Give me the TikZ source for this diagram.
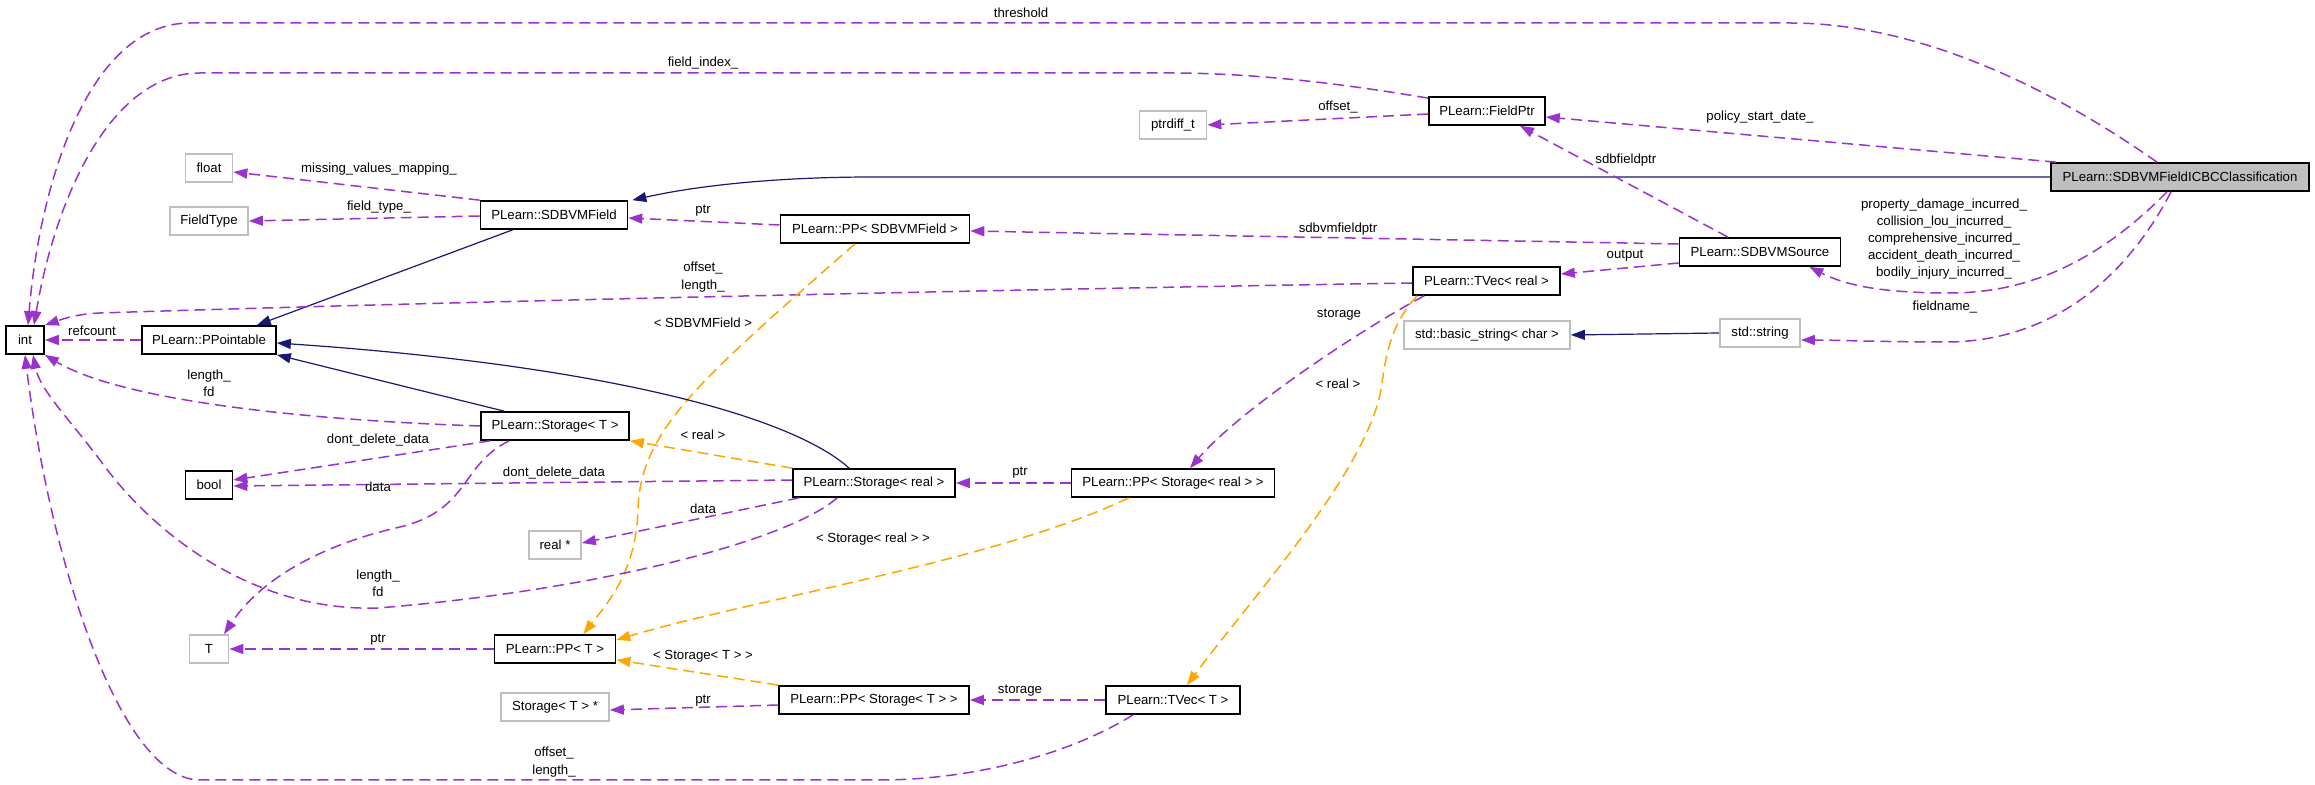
\documentclass[tikz,border=0pt]{standalone}
\usepackage{fontspec}
\setmainfont{Liberation Sans}
\usetikzlibrary{arrows.meta,calc}
\definecolor{usecol}{HTML}{9A32CD}
\definecolor{tmplcol}{HTML}{FFA500}
\definecolor{inhcol}{HTML}{191970}
\definecolor{boxgray}{HTML}{BFBFBF}
\newcommand{\lblfont}{\fontsize{6.6pt}{8.6pt}\selectfont}
\begin{document}
\begin{tikzpicture}[x=0.5pt,y=-0.5pt,
  cls/.style={draw=black,line width=0.85pt,rectangle,minimum height=14pt,inner sep=0pt,font=\lblfont,fill=white},
  ext/.style={cls,draw=boxgray},
  mainbox/.style={cls,fill=boxgray},
  tip/.style={-{Triangle[length=7pt,width=5pt]}},
  use/.style={draw=usecol,dash pattern=on 5.5pt off 3pt,line width=0.75pt,tip},
  tmpl/.style={use,draw=tmplcol},
  inh/.style={draw=inhcol,line width=0.6pt,tip},
  lab/.style={font=\lblfont,inner sep=0pt,align=center}]
\useasboundingbox (0,0) rectangle (2315,785);
\fill[white] (0,0) rectangle (2315,785);

% nodes
\node[cls,minimum width=19pt] (int) at (25,340) {int};
\node[cls,minimum width=67pt] (ppt) at (209,340) {PLearn::PPointable};
\node[ext,minimum width=23.5pt] (float) at (209,168) {float};
\node[ext,minimum width=39pt] (ftype) at (209,221) {FieldType};
\node[cls,minimum width=73.5pt] (sfield) at (554,215) {PLearn::SDBVMField};
\node[cls,minimum width=94.5pt] (ppsf) at (875,229) {PLearn::PP< SDBVMField >};
\node[ext,minimum width=33.5pt] (ptrdiff) at (1173,125) {ptrdiff\_t};
\node[cls,minimum width=58pt] (fptr) at (1487,111) {PLearn::FieldPtr};
\node[mainbox,minimum width=129pt] (icbc) at (2180,177) {PLearn::SDBVMFieldICBCClassification};
\node[cls,minimum width=80.5pt] (src) at (1760,252) {PLearn::SDBVMSource};
\node[cls,minimum width=73.5pt] (tvr) at (1486.5,281) {PLearn::TVec< real >};
\node[ext,minimum width=83pt] (bstr) at (1487,335) {std::basic\_string< char >};
\node[ext,minimum width=40pt] (str) at (1760,333) {std::string};
\node[cls,minimum width=74pt] (stT) at (555,426) {PLearn::Storage< T >};
\node[cls,minimum width=23.5pt] (bool) at (209,485) {bool};
\node[ext,minimum width=26pt] (rstar) at (555,545) {real *};
\node[ext,minimum width=19.5pt] (T) at (209,649) {T};
\node[cls,minimum width=60.5pt] (ppT) at (555,649) {PLearn::PP< T >};
\node[ext,minimum width=54pt] (stTs) at (555,707) {Storage< T > *};
\node[cls,minimum width=81pt] (stR) at (874,483) {PLearn::Storage< real >};
\node[cls,minimum width=101.5pt] (ppstR) at (1173,483) {PLearn::PP< Storage< real > >};
\node[cls,minimum width=95pt] (ppstT) at (874,700) {PLearn::PP< Storage< T > >};
\node[cls,minimum width=67pt] (tvT) at (1173,700) {PLearn::TVec< T >};

% connectors
\draw[use] ($(icbc.north)+(-23,0)$) .. controls (2040,80) and (1910,23) .. (1790,23) -- (190,23) .. controls (90,23) and (40,180) .. ($(int.north)+(3,0)$);
\draw[use] ($(fptr.north west)+(0,2)$) .. controls (1350,85) and (1260,73) .. (1170,73) -- (200,73) .. controls (110,73) and (55,200) .. ($(int.north)+(9,0)$);
\draw[use] ($(fptr.west)+(0,3)$) -- (ptrdiff.east);
\draw[use] ($(icbc.north west)+(6,0)$) -- ($(fptr.east)+(0,6)$);
\draw[inh] (icbc.west) -- (873,177) .. controls (780,177) and (700,185) .. ($(sfield.north east)+(4,0)$);
\draw[use] (sfield.north west) -- ($(float.east)+(0,4)$);
\draw[use] ($(sfield.west)+(0,1)$) -- (ftype.east);
\draw[inh] ($(sfield.south west)+(33,0)$) -- ($(ppt.north east)+(-20,0)$);
\draw[use] ($(ppsf.west)+(0,-4)$) -- ($(sfield.east)+(0,3)$);
\draw[use] ($(src.west)+(0,-8)$) -- ($(ppsf.east)+(0,2)$);
\draw[use] ($(src.north)+(-32,0)$) -- ($(fptr.south)+(33,0)$);
\draw[use] ($(src.west)+(0,11)$) -- ($(tvr.east)+(0,-7)$);
\draw[use] ($(icbc.south)+(-13,0)$) .. controls (2100,260) and (2030,293) .. (1950,293) .. controls (1880,293) and (1845,285) .. ($(src.south east)+(-32,0)$);
\draw[use] ($(icbc.south)+(-9,0)$) .. controls (2120,290) and (2040,342) .. (1946,342) .. controls (1880,342) and (1835,340) .. ($(str.east)+(0,7)$);
\draw[inh] (str.west) -- (bstr.east);
\draw[use] ($(tvr.west)+(0,2)$) .. controls (1100,288) and (500,300) .. (100,313) .. controls (75,314) and (60,320) .. (int.north east);
\draw[tmpl] ($(ppsf.south)+(-20,0)$) .. controls (700,380) and (640,430) .. (638,510) .. controls (636,570) and (610,600) .. ($(ppT.north east)+(-33,0)$);
\draw[use] (ppt.west) -- (int.east);
\draw[inh] ($(stT.north west)+(24,0)$) -- (ppt.south east);
\draw[inh] ($(stR.north west)+(57,0)$) .. controls (790,415) and (600,365) .. ($(ppt.east)+(0,3)$);
\draw[use] (stT.west) .. controls (300,420) and (120,400) .. (int.south east);
\draw[use] ($(stT.south west)+(10,0)$) -- ($(bool.east)+(0,-5)$);
\draw[use] ($(stT.south west)+(29,0)$) .. controls (460,465) and (470,510) .. (400,527) .. controls (320,545) and (260,580) .. ($(T.north)+(15,0)$);
\draw[use] ($(stR.west)+(0,-3)$) -- ($(bool.east)+(0,1)$);
\draw[tmpl] (stR.north west) -- (stT.south east);
\draw[use] ($(stR.south west)+(7,0)$) -- ($(rstar.east)+(0,-2)$);
\draw[use] ($(stR.south west)+(45,0)$) .. controls (790,540) and (600,590) .. (378,608) .. controls (250,612) and (150,530) .. (100,460) .. controls (70,420) and (40,390) .. ($(int.south)+(8,0)$);
\draw[use] (ppstR.west) -- (stR.east);
\draw[use] ($(tvr.south west)+(12,0)$) .. controls (1360,330) and (1240,410) .. ($(ppstR.north)+(17,0)$);
\draw[tmpl] ($(tvr.south west)+(5,0)$) .. controls (1385,330) and (1385,370) .. (1380,395) .. controls (1360,480) and (1250,600) .. ($(tvT.north)+(14,0)$);
\draw[tmpl] ($(ppstR.south west)+(58,0)$) .. controls (1000,560) and (750,600) .. ($(ppT.east)+(0,-9)$);
\draw[use] (ppT.west) -- (T.east);
\draw[tmpl] (ppstT.north west) -- ($(ppT.south east)+(0,-4)$);
\draw[use] ($(ppstT.west)+(0,5)$) -- ($(stTs.east)+(0,3)$);
\draw[use] (tvT.west) -- (ppstT.east);
\draw[use] ($(tvT.south west)+(28,0)$) .. controls (1060,760) and (960,780) .. (880,780) -- (200,780) .. controls (120,780) and (50,560) .. (int.south);

% labels
\node[lab] (lthr) at (1021,13) {threshold};
\node[lab] (lfi) at (703,63) {field\_index\_};
\node[lab] (loff) at (1338,107) {offset\_};
\node[lab] (lpsd) at (1760,117) {policy\_start\_date\_};
\node[lab] (lmvm) at (379,169) {missing\_values\_mapping\_};
\node[lab] (lft) at (379,207) {field\_type\_};
\node[lab] (lptr1) at (703,211) {ptr};
\node[lab] (lsvp) at (1338,229) {sdbvmfieldptr};
\node[lab,anchor=west] (lsfp) at (1595,160) {sdbfieldptr};
\node[lab] (lout) at (1625,256) {output};
\node[lab] (linc) at (1944,239) {property\_damage\_incurred\_\\collision\_lou\_incurred\_\\comprehensive\_incurred\_\\accident\_death\_incurred\_\\bodily\_injury\_incurred\_};
\node[lab] (lfn) at (1945,307) {fieldname\_};
\node[lab] (lol1) at (703,277) {offset\_\\length\_};
\node[lab] (lsf) at (703,323) {< SDBVMField >};
\node[lab] (lref) at (92,331) {refcount};
\node[lab] (llf1) at (209,383) {length\_\\fd};
\node[lab] (ldd1) at (378,440) {dont\_delete\_data};
\node[lab] (ldd2) at (554,473) {dont\_delete\_data};
\node[lab] (ldata1) at (378,487) {data};
\node[lab] (lreal1) at (703,435) {< real >};
\node[lab] (ldata2) at (703,509) {data};
\node[lab] (llf2) at (378,583) {length\_\\fd};
\node[lab] (lptr2) at (1020,473) {ptr};
\node[lab] (lsto1) at (1339,315) {storage};
\node[lab] (lreal2) at (1338,384) {< real >};
\node[lab] (lsr) at (873,539) {< Storage< real > >};
\node[lab] (lptr3) at (378,640) {ptr};
\node[lab] (lst) at (703,656) {< Storage< T > >};
\node[lab] (lptr4) at (703,701) {ptr};
\node[lab] (lsto2) at (1020,691) {storage};
\node[lab] (lol2) at (554,762) {offset\_\\length\_};
\end{tikzpicture}
\end{document}
